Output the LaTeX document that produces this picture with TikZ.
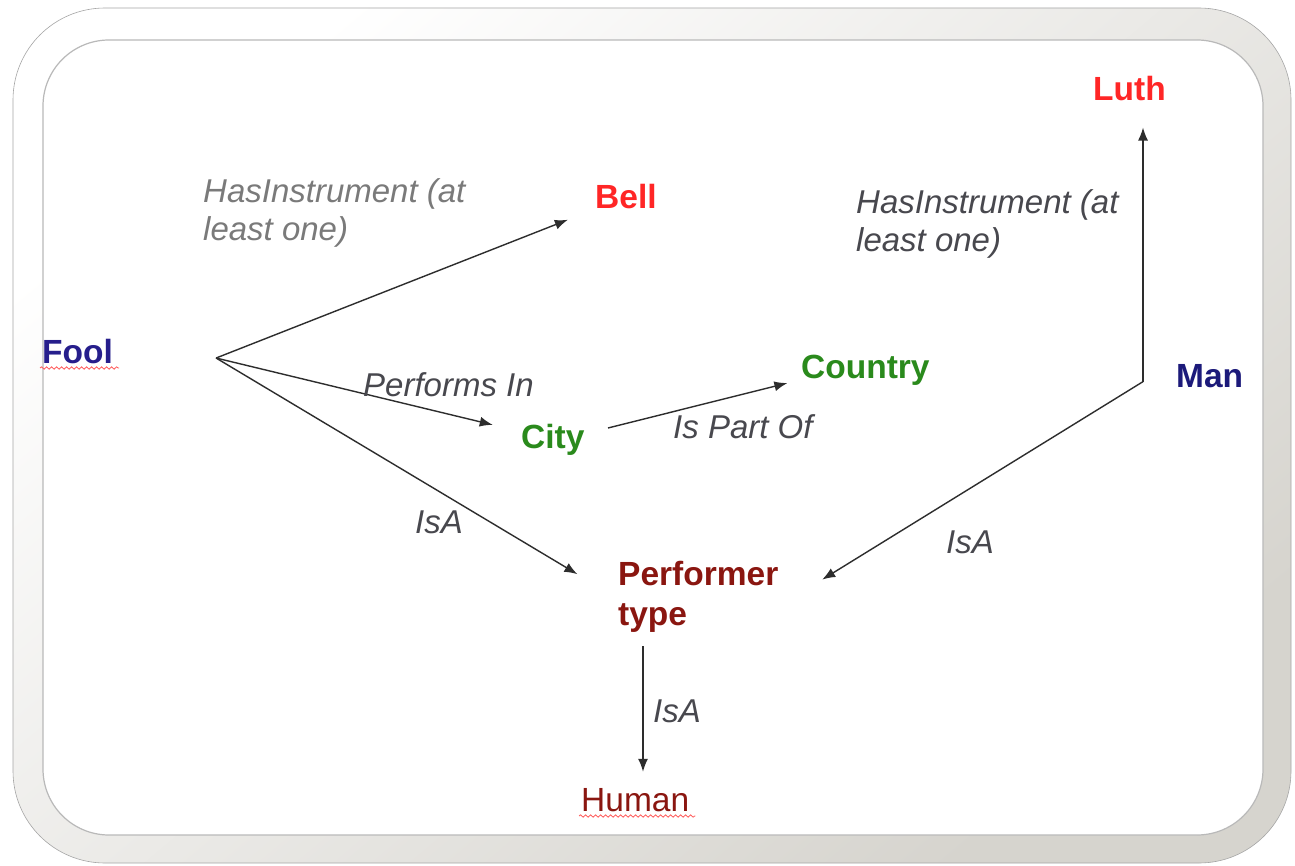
\documentclass[tikz,border=0pt]{standalone}
\usepackage{fontspec}
\setmainfont{Liberation Sans}
\usetikzlibrary{arrows.meta,decorations.pathmorphing}

\definecolor{foolblue}{RGB}{38,30,140}
\definecolor{manblue}{RGB}{28,26,122}
\definecolor{instred}{RGB}{255,38,38}
\definecolor{placegreen}{RGB}{42,138,28}
\definecolor{typered}{RGB}{138,22,16}
\definecolor{labelgray}{RGB}{72,72,78}
\definecolor{lightgray}{RGB}{122,122,122}
\definecolor{linegray}{RGB}{45,45,45}
\definecolor{bandgray}{RGB}{214,212,206}

\tikzset{
  concept/.style={inner sep=2pt, font=\bfseries\fontsize{33.5}{40}\selectfont},
  relation/.style={inner sep=0pt, text=labelgray, align=left,
    font=\itshape\fontsize{33}{38}\selectfont},
  arr/.style={draw=linegray, line width=1.4pt, -{Latex[length=13pt,width=10pt]}},
  squiggle/.style={draw=red!65, line width=0.8pt, decorate,
    decoration={snake, amplitude=1.2pt, segment length=5pt}}
}

\begin{document}
\begin{tikzpicture}[x=1pt, y=-1pt]

  % Fix the size of the page
  \useasboundingbox (0,0) rectangle (1295,866);
  \fill[white] (0,0) rectangle (1295,866);

  % Draw the frame round the diagram
  \shade[top color=white, bottom color=bandgray, shading angle=40,
    rounded corners=92pt] (13,8) rectangle (1291,863);
  \draw[gray!70, line width=0.6pt, rounded corners=92pt] (13,8) rectangle (1291,863);
  \fill[white, rounded corners=66pt] (43,40) rectangle (1263,835);
  \draw[gray!55, line width=1.2pt, rounded corners=66pt] (43,40) rectangle (1263,835);

  % Concepts
  \node[concept, text=foolblue, anchor=base west] (fool) at (40,363) {Fool};
  \node[concept, text=instred, anchor=base west] (bell) at (593,209) {Bell};
  \node[concept, text=instred, anchor=base west] (luth) at (1091,101) {Luth};
  \node[concept, text=placegreen, anchor=base west] (country) at (799,378) {Country};
  \node[concept, text=placegreen, anchor=base west] (city) at (519,448) {City};
  \node[concept, text=manblue, anchor=base west] (man) at (1174,387) {Man};
  \node[concept, text=typered, anchor=north west, align=left] (perf) at (616,559.5)
    {Performer\\type};
  \node[concept, text=typered, font=\fontsize{33.5}{40}\selectfont, anchor=base west]
    (human) at (579,811) {Human};

  % Spelling marks under Fool and Human
  \draw[squiggle] ([yshift=-5pt]fool.base west) -- ([yshift=-5pt,xshift=4pt]fool.base east);
  \draw[squiggle] ([yshift=-5pt]human.base west) -- ([yshift=-5pt,xshift=4pt]human.base east);

  % Points where the arrows leave Fool and Man
  \coordinate (foolhub) at ([xshift=101pt,yshift=-7pt]fool.east);
  \coordinate (manhub) at ([xshift=-31pt,yshift=-6pt]man.west);
  \coordinate (perfout) at ([xshift=27pt]perf.south west);

  % Relations of Fool
  \draw[arr, shorten >=27pt] (foolhub) -- (bell);
  \draw[arr, shorten >=27pt] (foolhub) -- (city);
  \draw[arr, shorten >=45pt] (foolhub) -- (perf.west);

  % City is part of Country
  \draw[arr, shorten <=22pt, shorten >=12pt] ([yshift=6pt]city.east) -- ([yshift=7pt]country.south west);

  % Relations of Man
  \draw[arr, shorten >=24pt] (manhub) -- (manhub |- luth.south);
  \draw[arr, shorten >=49pt] (manhub) -- ([yshift=-8pt]perf.east);

  % Performer type is a Human
  \draw[arr, shorten <=11pt, shorten >=14pt] (perfout) -- (perfout |- human.north);

  % Labels of the relations
  \node[relation, text=lightgray, anchor=north west] (hasbell) at (203,178)
    {HasInstrument (at\\least one)};
  \node[relation, anchor=north west] (hasluth) at (856,189)
    {HasInstrument (at\\least one)};
  \node[relation, anchor=base west] (performs) at (363,396) {Performs In};
  \node[relation, anchor=base west] (partof) at (673,438) {Is Part Of};
  \node[relation, anchor=base west] (isafool) at (415,533) {IsA};
  \node[relation, anchor=base west] (isaman) at (946,553) {IsA};
  \node[relation, anchor=base west] (isaperf) at (653,722) {IsA};

\end{tikzpicture}
\end{document}
